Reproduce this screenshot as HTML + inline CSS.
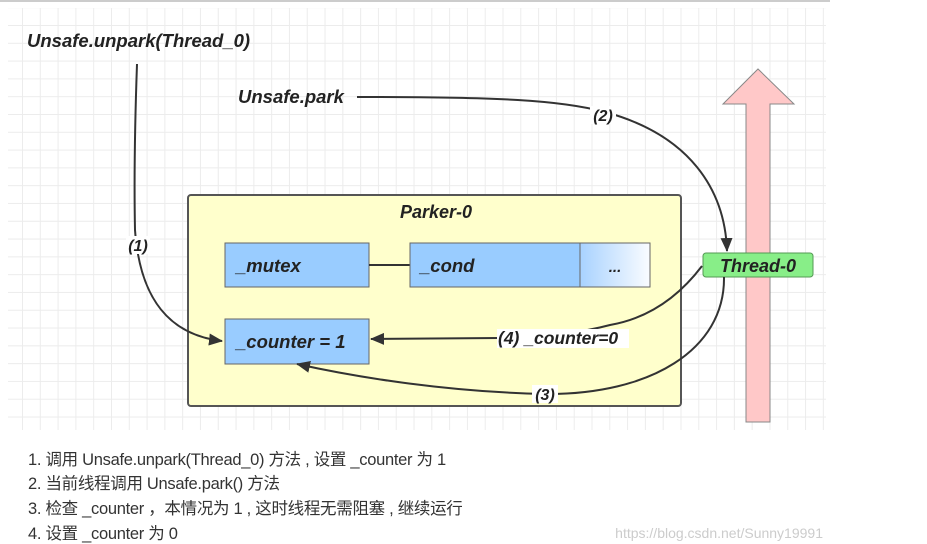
<!DOCTYPE html>
<html><head><meta charset="utf-8"><style>
html,body{margin:0;padding:0;background:#fff;width:927px;height:544px;overflow:hidden}
.t{font-family:"Liberation Sans","Noto Sans CJK SC",sans-serif;font-style:italic;font-weight:bold;fill:#222}
.n{position:absolute;left:28px;font-family:"Liberation Sans","Noto Sans CJK SC",sans-serif;font-size:16.5px;color:#333;white-space:nowrap;letter-spacing:-0.3px}
#grid{position:absolute;left:8px;top:8px;width:818px;height:422px;
background-image:linear-gradient(to right,#ececec 1px,transparent 1px),linear-gradient(to bottom,#ececec 1px,transparent 1px);
background-size:17.8px 17.8px;background-position:14px 17px}
</style></head><body>
<div id="grid"></div>
<svg width="927" height="544" style="position:absolute;left:0;top:0">
<defs>
<linearGradient id="gr" x1="0" x2="1"><stop offset="0" stop-color="#a8d2ff"/><stop offset="1" stop-color="#fafcff"/></linearGradient>
<marker id="b" markerWidth="14" markerHeight="12" refX="13" refY="6" orient="auto" markerUnits="userSpaceOnUse"><path d="M0 0L14 6L0 12Z" fill="#333"/></marker>
</defs>
<line x1="0" y1="1" x2="830" y2="1" stroke="#bbb" stroke-width="1.5"/>
<path d="M746 422V104H723L758 69L794 104H770V422Z" fill="#ffc8c8" stroke="#888" stroke-width="1"/>
<rect x="188" y="195" width="493" height="211" rx="3" fill="#ffffcc" stroke="#555" stroke-width="2"/>
<text x="436" y="218" class="t" font-size="18" text-anchor="middle">Parker-0</text>
<rect x="225" y="243" width="144" height="44" fill="#99ccff" stroke="#666"/>
<text x="236" y="272" class="t" font-size="18.5">_mutex</text>
<line x1="369" y1="265" x2="410" y2="265" stroke="#333" stroke-width="2"/>
<rect x="410" y="243" width="170" height="44" fill="#99ccff" stroke="#666"/>
<text x="420" y="272" class="t" font-size="18.5">_cond</text>
<rect x="580" y="243" width="70" height="44" fill="url(#gr)" stroke="#666"/>
<text x="615" y="272" class="t" font-size="15" text-anchor="middle">...</text>
<rect x="225" y="319" width="144" height="45" fill="#99ccff" stroke="#666"/>
<text x="236" y="348" class="t" font-size="18.5">_counter = 1</text>
<rect x="703" y="253" width="110" height="24" rx="3" fill="#88ee88" stroke="#559955"/>
<text x="758" y="272" class="t" font-size="18" text-anchor="middle">Thread-0</text>
<text x="27" y="47" class="t" font-size="18.5">Unsafe.unpark(Thread_0)</text>
<text x="238" y="103" class="t" font-size="18.5">Unsafe.park</text>
<path d="M137 64C135 120 134 180 135 230C140 300 170 335 222 341" fill="none" stroke="#333" stroke-width="2" marker-end="url(#b)"/>
<rect x="126" y="236" width="24" height="18" fill="#fff"/>
<text x="138" y="251" class="t" font-size="16" text-anchor="middle">(1)</text>
<path d="M357 97C500 97 560 100 605 112C690 135 725 190 727 251" fill="none" stroke="#333" stroke-width="2" marker-end="url(#b)"/>
<rect x="590" y="106" width="26" height="18" fill="#fff"/>
<text x="603" y="121" class="t" font-size="16" text-anchor="middle">(2)</text>
<path d="M702 266C680 295 650 318 610 325C580 333 540 337 500 338L371 339" fill="none" stroke="#333" stroke-width="2" marker-end="url(#b)"/>
<rect x="497" y="329" width="132" height="19" fill="#fff"/>
<text x="498" y="344" class="t" font-size="17.5">(4) _counter=0</text>
<path d="M724 277C725 350 650 395 545 394C450 392 360 378 297 364" fill="none" stroke="#333" stroke-width="2" marker-end="url(#b)"/>
<rect x="532" y="385" width="26" height="18" fill="#fff"/>
<text x="545" y="400" class="t" font-size="16" text-anchor="middle">(3)</text>
<text x="823" y="538" font-family="Liberation Sans,sans-serif" font-size="14" fill="#ccc" text-anchor="end">https://blog.csdn.net/Sunny19991</text>
</svg>
<div class="n" style="top:446px">1. 调用 Unsafe.unpark(Thread_0) 方法 , 设置 _counter 为 1</div>
<div class="n" style="top:470px">2. 当前线程调用 Unsafe.park() 方法</div>
<div class="n" style="top:495px">3. 检查 _counter ，本情况为 1 , 这时线程无需阻塞 , 继续运行</div>
<div class="n" style="top:520px">4. 设置 _counter 为 0</div>
</body></html>
